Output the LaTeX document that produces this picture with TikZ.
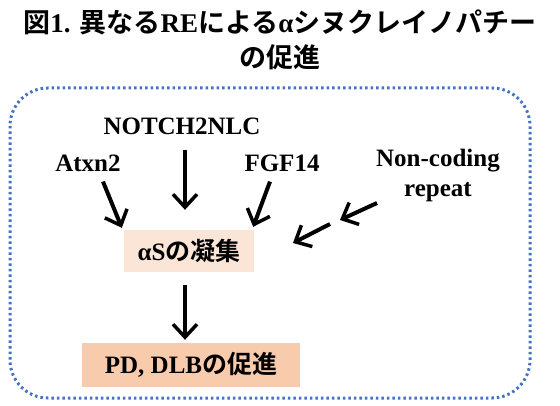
\documentclass[tikz,border=0pt]{standalone}
\usepackage{fontspec}
\setmainfont{Liberation Serif}[UprightFont=* Bold]
\newfontfamily\jp{Noto Sans CJK JP}[UprightFont=* Bold]
\newcommand{\ja}[1]{{\jp #1}}
\usepackage{tikz}
\usetikzlibrary{arrows.meta,positioning}
\usepackage{xcolor}
\definecolor{frameblue}{HTML}{4472C4}
\definecolor{peachlight}{HTML}{FBE5D6}
\definecolor{peach}{HTML}{F8CBAD}

\begin{document}
\begin{tikzpicture}[x=1pt, y=-1pt,
        label/.style={inner sep=0pt, align=center, font=\fontsize{25}{30}\selectfont},
        box/.style={label, fill=peachlight, minimum width=130pt, minimum height=42pt},
        arrow/.style={-{Straight Barb[length=13pt, width=24pt, line width=3.5pt]}, line width=4pt},
        frame/.style={draw=frameblue, line width=3pt, dash pattern=on 2.5pt off 3pt, rounded corners=38pt}
    ]
    \useasboundingbox (0,0) rectangle (560,406);
    % Title
    \node[inner sep=0pt, align=center, font=\fontsize{27}{35}\selectfont] (title) at (280,40)
        {\ja{図}1. \ja{異なる}RE\ja{による}α\ja{シヌクレイノパチー}\\\ja{の促進}};
    \draw[frame] (10,88) rectangle (530,398);
    % Nodes
    \node[box] (agg) at (189,251) {αS\ja{の凝集}};
    \node[box, fill=peach, minimum width=218pt, minimum height=44pt] (pd) at (191,365) {PD, DLB\ja{の促進}};
    \node[label] (notch) at (182,126) {NOTCH2NLC};
    \node[label] (atxn) at (88,163) {Atxn2};
    \node[label] (fgf) at (282,163) {FGF14};
    \node[label] (noncoding) at (438,175) {Non-coding\\repeat};
    \coordinate (nca) at (377,203);
    \coordinate (ncb) at (340,220);
    \coordinate (ncc) at (330,224);
    \coordinate (ncd) at (293,243);
    % Arrows
    \draw[arrow] ([shift={(15,10)}]atxn.south) -- ([shift={(-2,-2)}]agg.north west);
    \draw[arrow, shorten <=15pt, shorten >=20pt] ([xshift=3pt]notch.south) -- ([xshift=3pt]notch.south |- agg.north);
    \draw[arrow] ([shift={(-12,10)}]fgf.south) -- ([shift={(-1,-3)}]agg.north east);
    \draw[arrow] (nca) -- (ncb);
    \draw[arrow] (ncc) -- (ncd);
    \draw[arrow, shorten <=13pt, shorten >=3pt] ([xshift=-4pt]agg.south) -- ([xshift=-4pt]agg.south |- pd.north);
\end{tikzpicture}
\end{document}
